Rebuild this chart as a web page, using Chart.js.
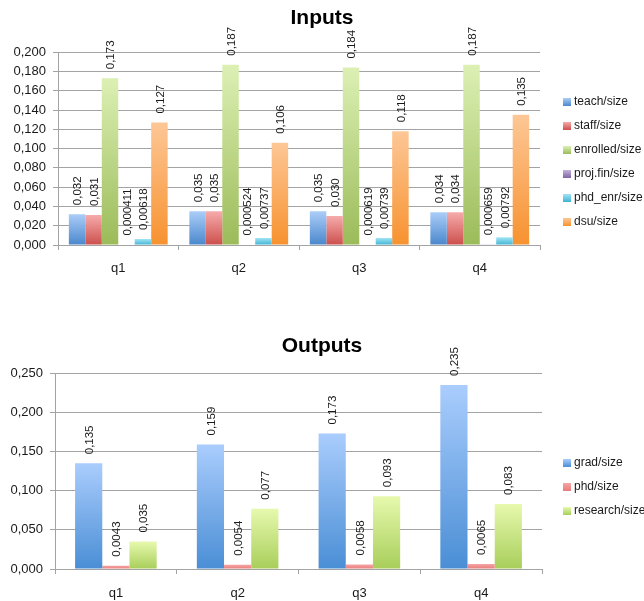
<!DOCTYPE html>
<html>
<head>
<meta charset="utf-8">
<script src="https://cdn.jsdelivr.net/npm/chart.js@4.4.1/dist/chart.umd.min.js"></script>
<style>
  html, body { margin: 0; padding: 0; background: #fff; overflow: hidden; }
  #wrap { position: relative; width: 644px; height: 601px; }
  canvas { position: absolute; left: 0; }
  #inputs { top: 0; }
  #outputs { top: 320px; }
</style>
</head>
<body>
<div id="wrap">
  <canvas id="inputs" width="644" height="300"></canvas>
  <canvas id="outputs" width="644" height="281"></canvas>
</div>
<script>
// categories
const quarters = ['q1', 'q2', 'q3', 'q4'];

// Inputs series
const inputLabels = ['teach/size', 'staff/size', 'enrolled/size', 'proj.fin/size', 'phd_enr/size', 'dsu/size'];
const teach = [0.032, 0.035, 0.035, 0.034];
const staff = [0.031, 0.035, 0.030, 0.034];
const enrolled = [0.173, 0.187, 0.184, 0.187];
const projFin = [0.000411, 0.000524, 0.000619, 0.000659];
const phdEnr = [0.00618, 0.00737, 0.00739, 0.00792];
const dsu = [0.127, 0.106, 0.118, 0.135];

// Outputs series
const outputLabels = ['grad/size', 'phd/size', 'research/size'];
const grad = [0.135, 0.159, 0.173, 0.235];
const phd = [0.0043, 0.0054, 0.0058, 0.0065];
const research = [0.035, 0.077, 0.093, 0.083];

// y axis ticks
const inputTicks = [0, 0.02, 0.04, 0.06, 0.08, 0.10, 0.12, 0.14, 0.16, 0.18, 0.20];
const outputTicks = [0, 0.05, 0.10, 0.15, 0.20, 0.25];

// light (top) / dark (bottom) gradient colours per series
const inputColors = [
  ['#abcdf8', '#4a87cc'],
  ['#f6abab', '#cc4f4c'],
  ['#dcf0b4', '#9bbb59'],
  ['#c3b2dc', '#8064a2'],
  ['#a2e4f5', '#3fb3d4'],
  ['#fdc796', '#f7922f']
];
const outputColors = [
  ['#aacdfd', '#4a8ed5'],
  ['#f6a5a5', '#e87b7b'],
  ['#e7f9ae', '#a8ce5a']
];

const FONT = "'Liberation Sans', Arial, sans-serif";
const GRID = '#a3a3a3';

function fmt(v) {
  return (v >= 0.01 ? v.toFixed(3) : String(v)).replace('.', ',');
}

// each bar gets its own top-to-bottom gradient
function barGradient(light, dark) {
  return function (c) {
    const chart = c.chart;
    if (c.type !== 'data' || !chart.chartArea) return dark;
    const y = chart.scales.y;
    const top = y.getPixelForValue(c.raw);
    const bottom = y.getPixelForValue(0);
    if (bottom - top < 1) return light;
    const g = chart.ctx.createLinearGradient(0, top, 0, bottom);
    g.addColorStop(0, light);
    g.addColorStop(1, dark);
    return g;
  };
}

// rotated value labels above the bars
const valueLabels = {
  id: 'valueLabels',
  afterDatasetsDraw(chart) {
    const ctx = chart.ctx;
    ctx.save();
    ctx.font = '11.5px ' + FONT;
    ctx.fillStyle = '#1a1a1a';
    ctx.textAlign = 'left';
    ctx.textBaseline = 'middle';
    chart.data.datasets.forEach((ds, i) => {
      chart.getDatasetMeta(i).data.forEach((bar, j) => {
        ctx.save();
        ctx.translate(bar.x + 1, bar.y - 9);
        ctx.rotate(-Math.PI / 2);
        ctx.fillText(fmt(ds.data[j]), 0, 0);
        ctx.restore();
      });
    });
    ctx.restore();
  }
};

// legend on the right, placed like the original
const sideLegend = {
  id: 'sideLegend',
  afterDraw(chart, args, opts) {
    const ctx = chart.ctx;
    ctx.save();
    ctx.font = '12px ' + FONT;
    ctx.textBaseline = 'middle';
    chart.data.datasets.forEach((ds, i) => {
      const cy = opts.y + i * opts.step;
      const g = ctx.createLinearGradient(0, cy - 4, 0, cy + 4);
      g.addColorStop(0, opts.colors[i][0]);
      g.addColorStop(1, opts.colors[i][1]);
      ctx.fillStyle = g;
      ctx.fillRect(opts.x, cy - 4, 8, 8);
      ctx.fillStyle = '#1a1a1a';
      ctx.fillText(ds.label, opts.x + 11, cy);
    });
    ctx.restore();
  }
};

function makeChart(id, cfg) {
  const datasets = cfg.series.map((data, i) => ({
    label: cfg.labels[i],
    data: data,
    backgroundColor: barGradient(cfg.colors[i][0], cfg.colors[i][1]),
    borderWidth: 0,
    categoryPercentage: cfg.catPct,
    barPercentage: 1.0
  }));

  return new Chart(document.getElementById(id), {
    type: 'bar',
    data: { labels: quarters, datasets: datasets },
    plugins: [valueLabels, sideLegend],
    options: {
      responsive: false,
      animation: false,
      layout: { padding: 0 },
      plugins: {
        legend: { display: false },
        tooltip: { enabled: false },
        title: {
          display: true,
          text: cfg.title,
          color: '#000',
          font: { family: FONT, size: 21, weight: 'bold' },
          padding: cfg.titlePad
        },
        sideLegend: { x: 563, y: cfg.legendY, step: 24, colors: cfg.colors }
      },
      scales: {
        x: {
          grid: { offset: true, drawOnChartArea: false, color: GRID, tickLength: 5 },
          border: { color: GRID },
          ticks: { color: '#1a1a1a', padding: cfg.xPad, font: { family: FONT, size: 13 } },
          afterFit: s => { s.height = cfg.xHeight; }
        },
        y: {
          min: 0,
          max: cfg.ticks[cfg.ticks.length - 1],
          afterBuildTicks: s => { s.ticks = cfg.ticks.map(v => ({ value: v })); },
          grid: { color: GRID, tickLength: 5 },
          border: { color: GRID },
          ticks: {
            color: '#1a1a1a',
            padding: 7,
            font: { family: FONT, size: 13 },
            callback: v => v.toFixed(3).replace('.', ',')
          },
          afterFit: s => { s.width = cfg.yWidth; }
        },
        pad: {
          axis: 'y',
          type: 'linear',
          position: 'right',
          grid: { display: false },
          border: { display: false },
          ticks: { display: false },
          afterFit: s => { s.width = cfg.rightGap; }
        }
      }
    }
  });
}

makeChart('inputs', {
  title: 'Inputs',
  labels: inputLabels,
  series: [teach, staff, enrolled, projFin, phdEnr, dsu],
  colors: inputColors,
  ticks: inputTicks,
  catPct: 0.82,
  titlePad: { top: 6, bottom: 21 },
  xPad: 11,
  xHeight: 55,
  yWidth: 58,
  rightGap: 104,
  legendY: 102
});

makeChart('outputs', {
  title: 'Outputs',
  labels: outputLabels,
  series: [grad, phd, research],
  colors: outputColors,
  ticks: outputTicks,
  catPct: 0.67,
  titlePad: { top: 14, bottom: 14 },
  xPad: 12,
  xHeight: 32,
  yWidth: 55,
  rightGap: 102,
  legendY: 143
});
</script>
</body>
</html>
